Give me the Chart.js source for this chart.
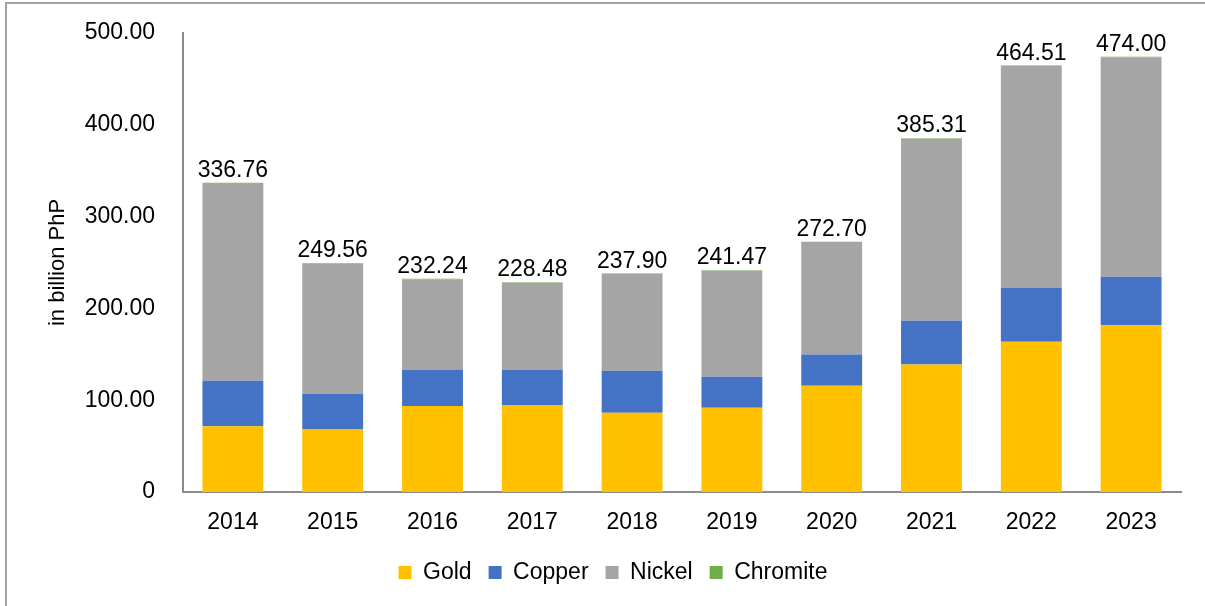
<!DOCTYPE html>
<html lang="en">
<head>
<meta charset="UTF-8">
<title>Value of metallic mineral production</title>
<style>
  html, body { margin: 0; padding: 0; background: #fff; }
  .wrap { position: relative; width: 1205px; height: 606px; overflow: hidden; }
  .frame { position: absolute; left: 5px; top: 2px; width: 1300px; height: 700px;
           border: 2px solid #a3a3a3; pointer-events: none; }
  canvas { position: absolute; left: 0; top: 0; }
</style>
<script src="https://cdn.jsdelivr.net/npm/chart.js"></script>
</head>
<body>
<div class="wrap">
  <canvas id="chart" width="1205" height="606"></canvas>
  <div class="frame"></div>
</div>
<script>
// values, in billion PhP
const years    = ['2014', '2015', '2016', '2017', '2018', '2019', '2020', '2021', '2022', '2023'];
const gold     = [71.7, 68.1, 93.8, 94.9, 86.2, 91.7, 115.7, 139.0, 163.7, 181.6];
const copper   = [49.4, 38.8, 39.0, 38.2, 45.8, 33.8, 34.2, 47.6, 58.9, 53.0];
const nickel   = [214.6, 141.9, 98.9, 94.9, 105.5, 115.6, 122.5, 198.2, 241.4, 238.9];
const chromite = [1.06, 0.76, 0.54, 0.48, 0.40, 0.37, 0.30, 0.51, 0.51, 0.50];
const totals   = [336.76, 249.56, 232.24, 228.48, 237.90, 241.47, 272.70, 385.31, 464.51, 474.00];
const yTicks   = ['0', '100.00', '200.00', '300.00', '400.00', '500.00'];

const FONT = '"Liberation Sans", Arial, sans-serif';
const axisGray = '#8c8c8c';

// total value written above each stack
const totalLabels = {
  id: 'totalLabels',
  afterDatasetsDraw(chart) {
    const ctx = chart.ctx;
    const meta = chart.getDatasetMeta(chart.data.datasets.length - 1);
    ctx.save();
    ctx.font = '23px ' + FONT;
    ctx.fillStyle = '#000';
    ctx.textAlign = 'center';
    ctx.textBaseline = 'alphabetic';
    meta.data.forEach((bar, i) => {
      ctx.fillText(totals[i].toFixed(2), bar.x, bar.y - 6);
    });
    ctx.restore();
  }
};

function ds(label, data, color) {
  return { label, data, backgroundColor: color, borderWidth: 0,
           barPercentage: 0.61, categoryPercentage: 1.0 };
}

new Chart(document.getElementById('chart'), {
  type: 'bar',
  data: {
    labels: years,
    datasets: [
      ds('Gold', gold, '#FFC000'),
      ds('Copper', copper, '#4472C4'),
      ds('Nickel', nickel, '#A5A5A5'),
      ds('Chromite', chromite, '#70AD47')
    ]
  },
  options: {
    responsive: false,
    devicePixelRatio: 1,
    animation: false,
    layout: { padding: { left: 45, right: 24, top: 33, bottom: 12 } },
    plugins: {
      tooltip: { enabled: false },
      legend: {
        position: 'bottom',
        labels: {
          boxWidth: 13, boxHeight: 13, padding: 17,
          color: '#000', font: { family: FONT, size: 23 }
        }
      }
    },
    scales: {
      x: {
        stacked: true,
        grid: { display: false, drawTicks: false },
        border: { display: true, color: axisGray, width: 2 },
        ticks: { color: '#000', padding: 17, font: { family: FONT, size: 23 } },
        afterFit(axis) { axis.height = 52; }
      },
      y: {
        stacked: true,
        min: 0, max: 500,
        grid: { display: false, drawTicks: false },
        border: { display: true, color: axisGray, width: 2 },
        ticks: {
          stepSize: 100, padding: 28, color: '#000',
          font: { family: FONT, size: 23 },
          callback: (v) => yTicks[Math.round(v / 100)]
        },
        title: {
          display: true, text: 'in billion PhP', color: '#000',
          font: { family: FONT, size: 22 }, padding: { top: 0, bottom: 0 }
        },
        afterFit(axis) {
          axis.width = 138;
          // tick padding should not push the plot area down
          axis.paddingTop = 0;
          axis.paddingBottom = 0;
        }
      }
    }
  },
  plugins: [totalLabels]
});
</script>
</body>
</html>
